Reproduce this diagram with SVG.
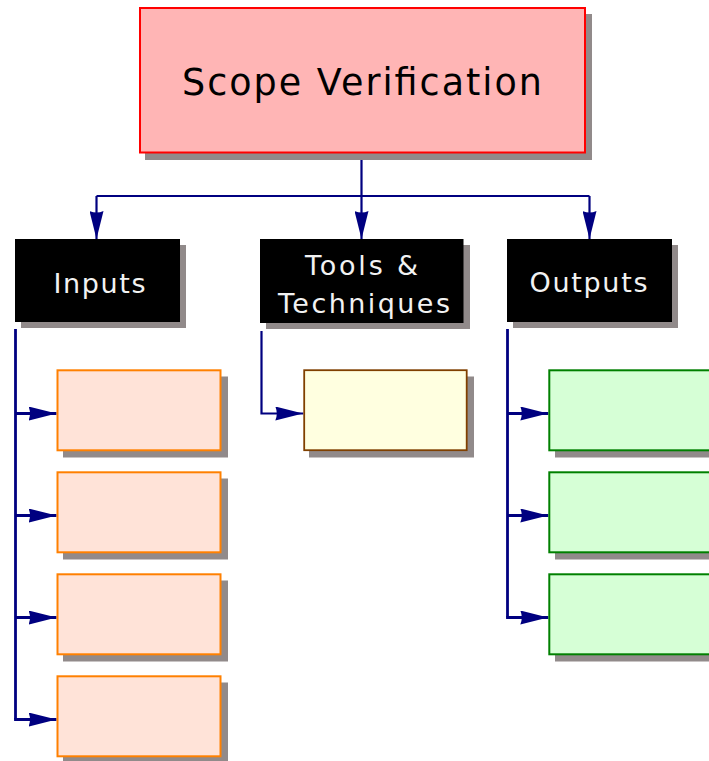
<svg xmlns="http://www.w3.org/2000/svg" width="709" height="761" viewBox="0 0 709 761">
<defs>
<style>
.sh{fill:#918a8a}
.hdr{fill:#000}
.ht{fill:#f2f2f2;font-family:"DejaVu Sans",Verdana,sans-serif;font-size:27px;text-anchor:middle}
.inp{fill:#ffe3d8;stroke:#ff8000;stroke-width:2}
.tool{fill:#ffffe0;stroke:#804000;stroke-width:1.8}
.out{fill:#d6ffd6;stroke:#008000;stroke-width:2}
.con{fill:none;stroke:#000080;stroke-width:2.8}
</style>
<marker id="ah" viewBox="0 0 28 14" refX="28" refY="7" markerWidth="28" markerHeight="14" markerUnits="userSpaceOnUse" orient="auto">
<path d="M0,0 Q3,7 0,14 L28,7 Z" fill="#000080"/>
</marker>
</defs>
<rect width="709" height="761" fill="#fff"/>

<g id="connectors">
<path class="con" d="M361.5,160 V196 M96.5,196 H589.5" style="stroke-width:2.2"/>
<path class="con" d="M96.5,196 V239" marker-end="url(#ah)" style="stroke-width:2.2"/>
<path class="con" d="M361.5,196 V239" marker-end="url(#ah)" style="stroke-width:2.2"/>
<path class="con" d="M589.5,196 V239" marker-end="url(#ah)" style="stroke-width:2.2"/>
<path class="con" d="M15.5,329 V719.5"/>
<path class="con" d="M15.5,413.5 H56.5" marker-end="url(#ah)"/>
<path class="con" d="M15.5,515.5 H56.5" marker-end="url(#ah)"/>
<path class="con" d="M15.5,617.5 H56.5" marker-end="url(#ah)"/>
<path class="con" d="M14.1,719.5 H56.5" marker-end="url(#ah)"/>
<path class="con" d="M261.5,331 V413.5 H303.3" marker-end="url(#ah)" style="stroke-width:2.2"/>
<path class="con" d="M507.5,329 V617.5"/>
<path class="con" d="M507.5,413.5 H548.3" marker-end="url(#ah)"/>
<path class="con" d="M507.5,515.5 H548.3" marker-end="url(#ah)"/>
<path class="con" d="M506.1,617.5 H548.3" marker-end="url(#ah)"/>
</g>

<g id="scope-verification">
<rect class="sh" x="145" y="14" width="447" height="146"/>
<rect x="140" y="8" width="445" height="144.5" fill="#ffb5b5" stroke="#ff0000" stroke-width="2"/>
<text x="362" y="95" font-family="'DejaVu Sans',Verdana,sans-serif" font-size="36.5" fill="#000" text-anchor="middle" textLength="360" lengthAdjust="spacing">Scope Verification</text>
</g>

<g id="inputs">
<rect class="sh" x="21" y="245" width="165" height="83"/>
<rect class="hdr" x="15" y="239" width="165" height="83"/>
<text class="ht" x="99.5" y="293" textLength="92" lengthAdjust="spacing">Inputs</text>
</g>

<g id="tools-techniques">
<rect class="sh" x="266" y="245" width="204" height="84"/>
<rect class="hdr" x="260" y="239" width="203.5" height="84"/>
<text class="ht" x="361.5" y="275" textLength="113" lengthAdjust="spacing">Tools &amp;</text>
<text class="ht" x="364" y="312.5" textLength="172" lengthAdjust="spacing">Techniques</text>
</g>

<g id="outputs">
<rect class="sh" x="513" y="245" width="165" height="83"/>
<rect class="hdr" x="507" y="239" width="165" height="83"/>
<text class="ht" x="588.5" y="292" textLength="118" lengthAdjust="spacing">Outputs</text>
</g>

<g id="input-1"><rect class="sh" x="63" y="376.5" width="165" height="81"/><rect class="inp" x="57.5" y="370.3" width="163" height="80"/></g>
<g id="input-2"><rect class="sh" x="63" y="478.5" width="165" height="81"/><rect class="inp" x="57.5" y="472.3" width="163" height="80"/></g>
<g id="input-3"><rect class="sh" x="63" y="580.5" width="165" height="81"/><rect class="inp" x="57.5" y="574.3" width="163" height="80"/></g>
<g id="input-4"><rect class="sh" x="63" y="682.5" width="165" height="81"/><rect class="inp" x="57.5" y="676.3" width="163" height="80"/></g>

<g id="tool-1"><rect class="sh" x="309" y="376.5" width="165" height="81"/><rect class="tool" x="304.2" y="370.2" width="162.5" height="80"/></g>

<g id="output-1"><rect class="sh" x="555" y="376.5" width="165" height="81"/><rect class="out" x="549.3" y="370.3" width="165" height="80"/></g>
<g id="output-2"><rect class="sh" x="555" y="478.5" width="165" height="81"/><rect class="out" x="549.3" y="472.3" width="165" height="80"/></g>
<g id="output-3"><rect class="sh" x="555" y="580.5" width="165" height="81"/><rect class="out" x="549.3" y="574.3" width="165" height="80"/></g>
</svg>
